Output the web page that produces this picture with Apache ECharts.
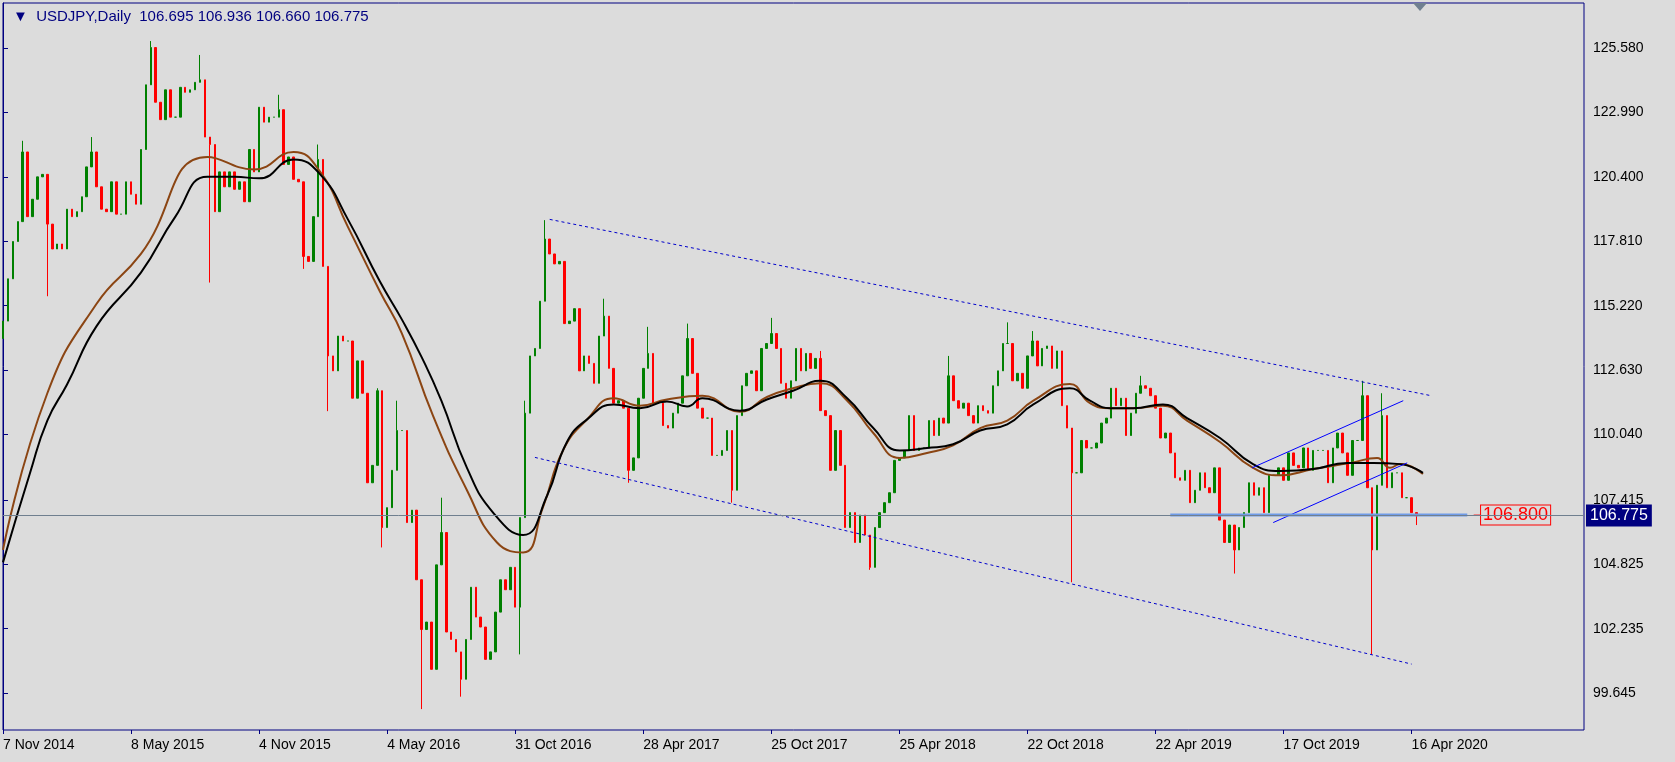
<!DOCTYPE html>
<html><head><meta charset="utf-8">
<script src="https://cdn.jsdelivr.net/npm/echarts@6/dist/echarts.min.js"></script>
<style>html,body{margin:0;padding:0;background:#dcdcdc;}#c{width:1675px;height:762px;}</style>
</head><body><div id="c"></div>
<script>
// weekly closes, week 0 = 7 Nov 2014
const closes = [
114.6,116.3,117.8,118.6,121.4,118.8,119.5,120.4,120.5,118.5,117.5,117.7,117.5,119.1,118.8,119.0,119.6,120.8,121.4,120.0,119.1,119.0,120.2,118.9,118.9,120.2,
119.7,119.3,121.5,124.1,125.6,123.4,122.7,123.9,122.8,122.8,124.0,123.8,123.9,124.2,124.3,122.0,121.7,119.0,120.6,120.0,120.6,119.9,120.2,119.4,121.5,120.6,
123.2,122.6,122.8,122.8,123.1,120.9,121.2,120.3,120.2,117.2,117.0,118.8,121.1,116.8,113.2,112.6,114.0,113.8,113.8,111.5,113.0,111.7,108.1,108.8,111.8,106.3,
107.1,108.6,110.2,110.2,106.5,107.0,104.2,102.2,102.5,100.6,104.8,106.1,102.1,101.8,101.3,100.2,101.8,103.9,102.7,102.3,101.0,101.3,102.9,104.2,103.8,104.7,
103.1,106.7,110.9,113.2,113.5,115.4,117.9,117.3,116.9,117.0,114.5,114.6,115.1,112.6,113.2,112.9,112.1,114.0,114.8,112.7,111.3,111.4,111.1,108.6,109.1,111.5,
112.7,113.3,111.3,111.3,110.4,110.3,110.9,111.3,112.4,113.9,112.5,111.1,110.7,110.7,109.2,109.2,109.4,110.2,107.8,110.8,112.0,112.5,112.6,111.8,113.5,113.7,
114.1,113.5,112.1,111.5,112.2,113.5,112.6,113.3,112.7,113.1,111.0,110.8,108.6,110.2,108.8,106.3,106.9,105.7,106.8,106.0,104.7,106.3,106.9,107.3,107.7,109.0,
109.1,109.4,110.8,109.4,109.5,109.5,110.6,110.0,110.7,110.5,112.4,111.4,111.1,111.3,110.8,110.5,111.2,111.0,110.9,112.0,112.6,113.7,113.7,112.2,112.5,111.9,
113.2,113.8,112.8,113.5,113.6,112.7,113.4,111.2,110.3,108.5,108.5,109.8,109.5,109.5,109.7,110.5,110.7,111.9,111.2,111.5,110.0,110.9,111.7,112.0,111.9,111.6,
111.1,109.9,110.1,109.3,108.3,108.2,108.6,107.3,107.8,108.5,107.9,107.7,108.7,106.6,105.7,106.4,105.4,106.3,106.9,108.1,107.6,107.9,106.9,108.4,108.4,108.7,
108.2,109.3,108.8,108.7,109.5,108.6,109.4,109.4,109.4,108.1,109.5,110.1,109.3,108.4,109.8,109.8,111.6,107.9,105.4,108.0,110.8,107.9,108.5,108.5,107.5,107.5,
106.9,106.775
];
const firstOpen = 113.9;
// notable wick extremes [week index, price]
const highWicks = [[4,121.85],[18,122.0],[30,125.86],[40,125.3],[56,123.7],[64,121.7],[76,111.9],[80,111.4],[89,107.5],[106,111.4],[110,118.66],[122,115.5],[131,114.37],[139,114.5],[156,114.73],[166,113.4],[192,113.2],[204,114.55],[209,114.2],[231,112.4],[276,112.2],[280,111.7]];
const lowWicks = [[9,115.6],[42,116.15],[61,116.7],[66,110.98],[77,105.5],[85,99.0],[93,99.5],[105,101.2],[127,108.1],[148,107.3],[176,104.6],[217,104.1],[250,104.45],[278,101.2],[287,106.4]];
// moving averages [week index, value]
const maBlack = [[0,104.9],[5.5,108.5],[9,110.6],[13,112.05],[19,114.4],[28,116.55],[35,118.8],[41.5,120.4],[47,120.4],[52,120.34],[59,121.1],[64.4,120.5],[70,118.7],[76.5,116.2],[81,114.66],[85,113.15],[89,111.4],[94.2,108.7],[99.5,106.9],[105.6,106.0],[110.5,107.6],[114.5,109.74],[118.6,110.65],[124,111.25],[129.3,111.1],[134.8,111.37],[138.9,111.17],[142,111.5],[149.6,111.0],[155.1,111.45],[160.4,111.8],[165.9,112.2],[171.4,111.5],[176.7,110.3],[182.1,109.4],[187.6,109.5],[192.9,109.65],[198.4,110.2],[203.9,110.45],[209.2,111.25],[216.6,111.9],[220.7,111.4],[224.8,111.1],[229.5,111.1],[235.5,111.25],[240.4,110.7],[247.1,109.9],[253.8,108.85],[259.3,108.57],[266,108.65],[272.9,108.9],[278.2,108.9],[283.7,108.85],[288.3,108.5]];
const maBrown = [[0,105.4],[9,111.7],[19,115.3],[28,117.3],[41.5,121.2],[51,120.7],[59,121.4],[64.4,120.6],[70,118.4],[76.5,115.8],[81,114.1],[87.3,110.8],[94.2,107.8],[100.3,105.7],[105.6,105.3],[109.6,107.1],[113.7,109.4],[118.6,110.65],[124,111.5],[129.3,111.2],[134.8,111.45],[142,111.6],[149.6,110.96],[155.1,111.55],[160.4,111.9],[165.9,112.1],[171.4,111.4],[176.7,110.1],[182.1,109.1],[187.6,109.3],[192.9,109.6],[198.4,110.3],[203.9,110.6],[209.2,111.4],[216.6,112.07],[220.7,111.3],[224.8,111.1],[229.5,111.1],[235.5,111.2],[240.4,110.6],[247.1,109.74],[253.8,108.7],[259.3,108.4],[266,108.65],[273.7,108.9],[279,109.1],[281.6,108.7],[283.7,108.85],[288.3,108.45]];
// drawn trend lines [week index, price]
const upperTrend = [[111,118.69],[290,111.6]];
const lowerTrend = [[108,109.12],[286,100.81]];
const channelTop = [[253.6,108.7],[284.3,111.4]];
const channelBottom = [[257.9,106.5],[285.1,108.9]];
const supportLine = [[237,106.8],[297.3,106.8]];
const supportTag = [[298.6,106.8],[300.1,106.8]];
const supportLevel = 106.8;
const lastPrice = 106.775;
const dateLabels = ['7 Nov 2014','8 May 2015','4 Nov 2015','4 May 2016','31 Oct 2016','28 Apr 2017','25 Oct 2017','25 Apr 2018','22 Oct 2018','22 Apr 2019','17 Oct 2019','16 Apr 2020'];
const dateTickIdx = [0,26,52,78,104,130,156,182,208,234,260,286];
const priceTicks = [125.580,122.990,120.400,117.810,115.220,112.630,110.040,107.415,104.825,102.235,99.645];
const titleText = 'USDJPY,Daily  106.695 106.936 106.660 106.775';

const hiMap = new Map(highWicks), loMap = new Map(lowWicks);
const candles = closes.map((c,i)=>{
  const o = i===0 ? firstOpen : closes[i-1];
  const h = Math.max(o,c, hiMap.get(i) ?? -1);
  const l = Math.min(o,c, loMap.get(i) ?? 999);
  return [i,o,c,l,h];
});

const chart = echarts.init(document.getElementById('c'));
const font = 'Liberation Sans, DejaVu Sans, sans-serif';
chart.setOption({
  backgroundColor:'#dcdcdc',
  animation:false,
  title:{text:'\u25BC  '+titleText,left:8,top:4,textStyle:{color:'#000080',fontSize:15,fontWeight:'normal',fontFamily:font}},
  grid:{left:3,right:91,top:3,bottom:32,show:true,borderColor:'#000080',borderWidth:1,backgroundColor:'#dcdcdc'},
  xAxis:{type:'value',min:0,max:321,
    axisLine:{show:false},splitLine:{show:false},
    axisTick:{show:true,length:4,customValues:dateTickIdx,lineStyle:{color:'#000080'}},
    axisLabel:{customValues:dateTickIdx,align:'left',margin:8,color:'#000',fontSize:14,fontFamily:font,
      formatter:v=>dateLabels[dateTickIdx.indexOf(Math.round(v))]||''}},
  yAxis:{type:'value',position:'right',min:98.16,max:127.39,scale:true,
    axisLine:{show:true,lineStyle:{color:'#000080'}},splitLine:{show:false},
    axisTick:{show:true,length:5,customValues:priceTicks,lineStyle:{color:'#000080'}},
    axisLabel:{customValues:priceTicks,margin:9,color:'#000',fontSize:14,fontFamily:font,formatter:v=>v.toFixed(3)}},
  series:[
    {type:'candlestick',data:candles,encode:{x:0,y:[1,2,3,4]},barWidth:2,
      itemStyle:{color:'#008000',color0:'#ff0000',borderColor:'#008000',borderColor0:'#ff0000',borderWidth:1},
      markLine:{symbol:'none',silent:true,data:[{yAxis:lastPrice}],
        lineStyle:{color:'#6f7f8f',width:1,type:'solid'},
        label:{show:true,position:'end',distance:2,formatter:lastPrice.toFixed(3),color:'#fff',backgroundColor:'#000080',padding:[3,4],fontSize:16,fontFamily:font}}},
    {type:'line',data:maBrown,smooth:true,symbol:'none',lineStyle:{color:'#8b4513',width:2}},
    {type:'line',data:maBlack,smooth:true,symbol:'none',lineStyle:{color:'#000',width:2}},
    {type:'line',data:upperTrend,symbol:'none',lineStyle:{color:'#0000cc',width:1,type:[3,3]}},
    {type:'line',data:lowerTrend,symbol:'none',lineStyle:{color:'#0000cc',width:1,type:[3,3]}},
    {type:'line',data:channelTop,symbol:'none',lineStyle:{color:'#0000ff',width:1}},
    {type:'line',data:channelBottom,symbol:'none',lineStyle:{color:'#0000ff',width:1}},
    {type:'line',data:supportLine,symbol:'none',lineStyle:{color:'#6f9be8',width:3}},
    {type:'line',data:supportTag,symbol:'none',silent:true,lineStyle:{color:'#ff0000',width:1},
      endLabel:{show:true,distance:0,formatter:supportLevel.toFixed(3),color:'#ff0000',fontSize:18,fontFamily:font,
        borderColor:'#ff0000',borderWidth:1,padding:[1,2,0,2],backgroundColor:'#dcdcdc'}}
  ],
  graphic:[{type:'polygon',shape:{points:[[1413,3],[1427,3],[1420,11]]},style:{fill:'#708090'}}]
});
</script></body></html>
